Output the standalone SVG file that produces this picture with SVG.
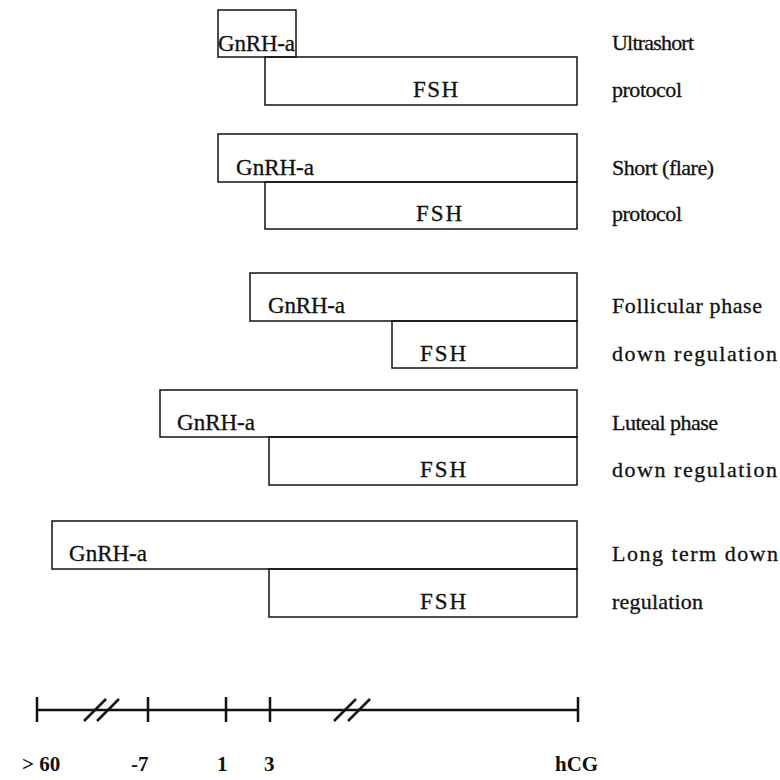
<svg xmlns="http://www.w3.org/2000/svg" width="780" height="780" viewBox="0 0 780 780">
<style>
.box{fill:none;stroke:#111;stroke-width:1.5}
.t{font-family:"Liberation Serif","Times New Roman",serif;font-size:23px;fill:#111;stroke:#111;stroke-width:0.3}
.l{font-family:"Liberation Serif","Times New Roman",serif;font-size:22px;fill:#111;stroke:#111;stroke-width:0.3}
.b{font-family:"Liberation Serif","Times New Roman",serif;font-size:21px;font-weight:bold;fill:#111}
.ax{stroke:#111;stroke-width:2.5;fill:none}
</style>
<rect width="780" height="780" fill="#fff"/>
<g id="row1">
<rect class="box" x="218" y="10" width="78" height="47"/>
<rect class="box" x="265" y="57" width="312" height="48"/>
<text class="t" x="218" y="51" textLength="77">GnRH-a</text>
<text class="t" x="413" y="97" textLength="45">FSH</text>
<text class="l" x="612" y="50" textLength="82">Ultrashort</text>
<text class="l" x="612" y="97" textLength="70">protocol</text>
</g>
<g id="row2">
<rect class="box" x="218" y="134" width="359" height="48"/>
<rect class="box" x="265" y="182" width="312" height="47"/>
<text class="t" x="236" y="175" textLength="78">GnRH-a</text>
<text class="t" x="416" y="221" textLength="46">FSH</text>
<text class="l" x="612" y="175" textLength="102">Short (flare)</text>
<text class="l" x="612" y="221" textLength="70">protocol</text>
</g>
<g id="row3">
<rect class="box" x="250" y="273" width="327" height="48"/>
<rect class="box" x="392" y="321" width="185" height="47"/>
<text class="t" x="268" y="313" textLength="77">GnRH-a</text>
<text class="t" x="420" y="361" textLength="46">FSH</text>
<text class="l" x="612" y="313" textLength="150">Follicular phase</text>
<text class="l" x="612" y="361" textLength="165">down regulation</text>
</g>
<g id="row4">
<rect class="box" x="160" y="390" width="417" height="47"/>
<rect class="box" x="269" y="437" width="308" height="48"/>
<text class="t" x="177" y="430" textLength="78">GnRH-a</text>
<text class="t" x="420" y="477" textLength="46">FSH</text>
<text class="l" x="612" y="430" textLength="106">Luteal phase</text>
<text class="l" x="612" y="477" textLength="165">down regulation</text>
</g>
<g id="row5">
<rect class="box" x="52" y="521" width="525" height="48"/>
<rect class="box" x="269" y="569" width="308" height="48"/>
<text class="t" x="69" y="561" textLength="78">GnRH-a</text>
<text class="t" x="420" y="609" textLength="46">FSH</text>
<text class="l" x="612" y="561" textLength="166">Long term down</text>
<text class="l" x="612" y="609" textLength="91">regulation</text>
</g>
<g id="axis">
<line class="ax" x1="37" y1="710" x2="578" y2="710"/>
<line class="ax" x1="37" y1="697" x2="37" y2="722"/>
<line class="ax" x1="148" y1="697" x2="148" y2="722"/>
<line class="ax" x1="226" y1="697" x2="226" y2="722"/>
<line class="ax" x1="270" y1="697" x2="270" y2="722"/>
<line class="ax" x1="578" y1="697" x2="578" y2="722"/>
<line class="ax" x1="84" y1="721" x2="106" y2="699" stroke-width="2"/>
<line class="ax" x1="97" y1="721" x2="119" y2="699" stroke-width="2"/>
<line class="ax" x1="334" y1="721" x2="356" y2="699" stroke-width="2"/>
<line class="ax" x1="348" y1="721" x2="370" y2="699" stroke-width="2"/>
<text class="b" x="22" y="771">&gt; 60</text>
<text class="b" x="131" y="771">-7</text>
<text class="b" x="217" y="771">1</text>
<text class="b" x="264" y="771">3</text>
<text class="b" x="555" y="771">hCG</text>
</g>
</svg>
